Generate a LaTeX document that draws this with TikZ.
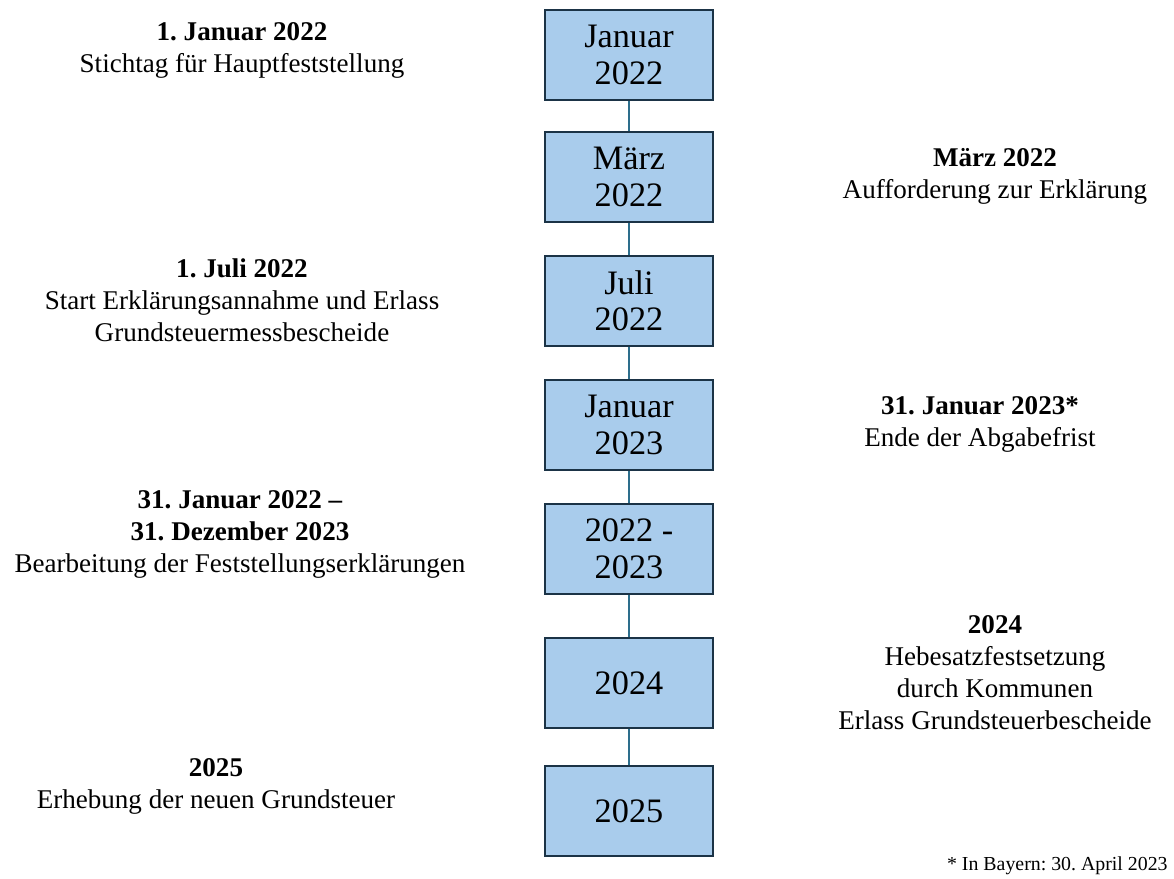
\documentclass[tikz,border=0pt]{standalone}
\usepackage{fontspec}
\setmainfont{Liberation Serif}
\usepackage{xcolor}
\usetikzlibrary{positioning}
\definecolor{boxfill}{HTML}{A9CCEC}
\definecolor{boxline}{HTML}{1B3346}
\definecolor{linkline}{HTML}{2D6E8C}
\frenchspacing

\begin{document}
\begin{tikzpicture}[x=0.02cm,y=-0.02cm,
  year/.style={draw=boxline, line width=1.4pt, fill=boxfill, minimum width=3.36cm, minimum height=1.8cm, align=center, font=\fontsize{19.5}{20.8}\selectfont, inner sep=0pt},
  note/.style={align=center, font=\fontsize{15.4}{18.2}\selectfont},
  link/.style={draw=linkline, line width=1.2pt}
]
\useasboundingbox (0,0) rectangle (1174,879);
\def\xB{629}
% timeline boxes
\node[year] (y1) at (\xB,55) {Januar\\2022};
\node[year] (y2) at (\xB,177) {März\\2022};
\node[year] (y3) at (\xB,301) {Juli\\2022};
\node[year] (y4) at (\xB,425) {Januar\\2023};
\node[year] (y5) at (\xB,549) {2022 -\\2023};
\node[year] (y6) at (\xB,683) {2024};
\node[year] (y7) at (\xB,811) {2025};

\draw[link] (y1) -- (y2);
\draw[link] (y2) -- (y3);
\draw[link] (y3) -- (y4);
\draw[link] (y4) -- (y5);
\draw[link] (y5) -- (y6);
\draw[link] (y6) -- (y7);

% left side
\node[note] (n1) at (242,50) {\textbf{1. Januar 2022}\\Stichtag für Hauptfeststellung};
\node[note] (n3) at (242,300) {\textbf{1. Juli 2022}\\Start Erklärungsannahme und Erlass\\Grundsteuermessbescheide};
\node[note] (n5) at (240,534) {\textbf{31. Januar 2022 –}\\\textbf{31. Dezember 2023}\\Bearbeitung der Feststellungserklärungen};
\node[note] (n7) at (216,786) {\textbf{2025}\\Erhebung der neuen Grundsteuer};

% right side
\node[note] (n2) at (995,176) {\textbf{März 2022}\\Aufforderung zur Erklärung};
\node[note] (n4) at (980,424) {\textbf{31. Januar 2023*}\\Ende der Abgabefrist};
\node[note] (n6) at (995,673) {\textbf{2024}\\Hebesatzfestsetzung\\durch Kommunen\\Erlass Grundsteuerbescheide};

\node[anchor=east, font=\fontsize{11.3}{13}\selectfont, inner sep=0pt] (fn) at (1168,866) {* In Bayern: 30. April 2023};
\end{tikzpicture}
\end{document}
